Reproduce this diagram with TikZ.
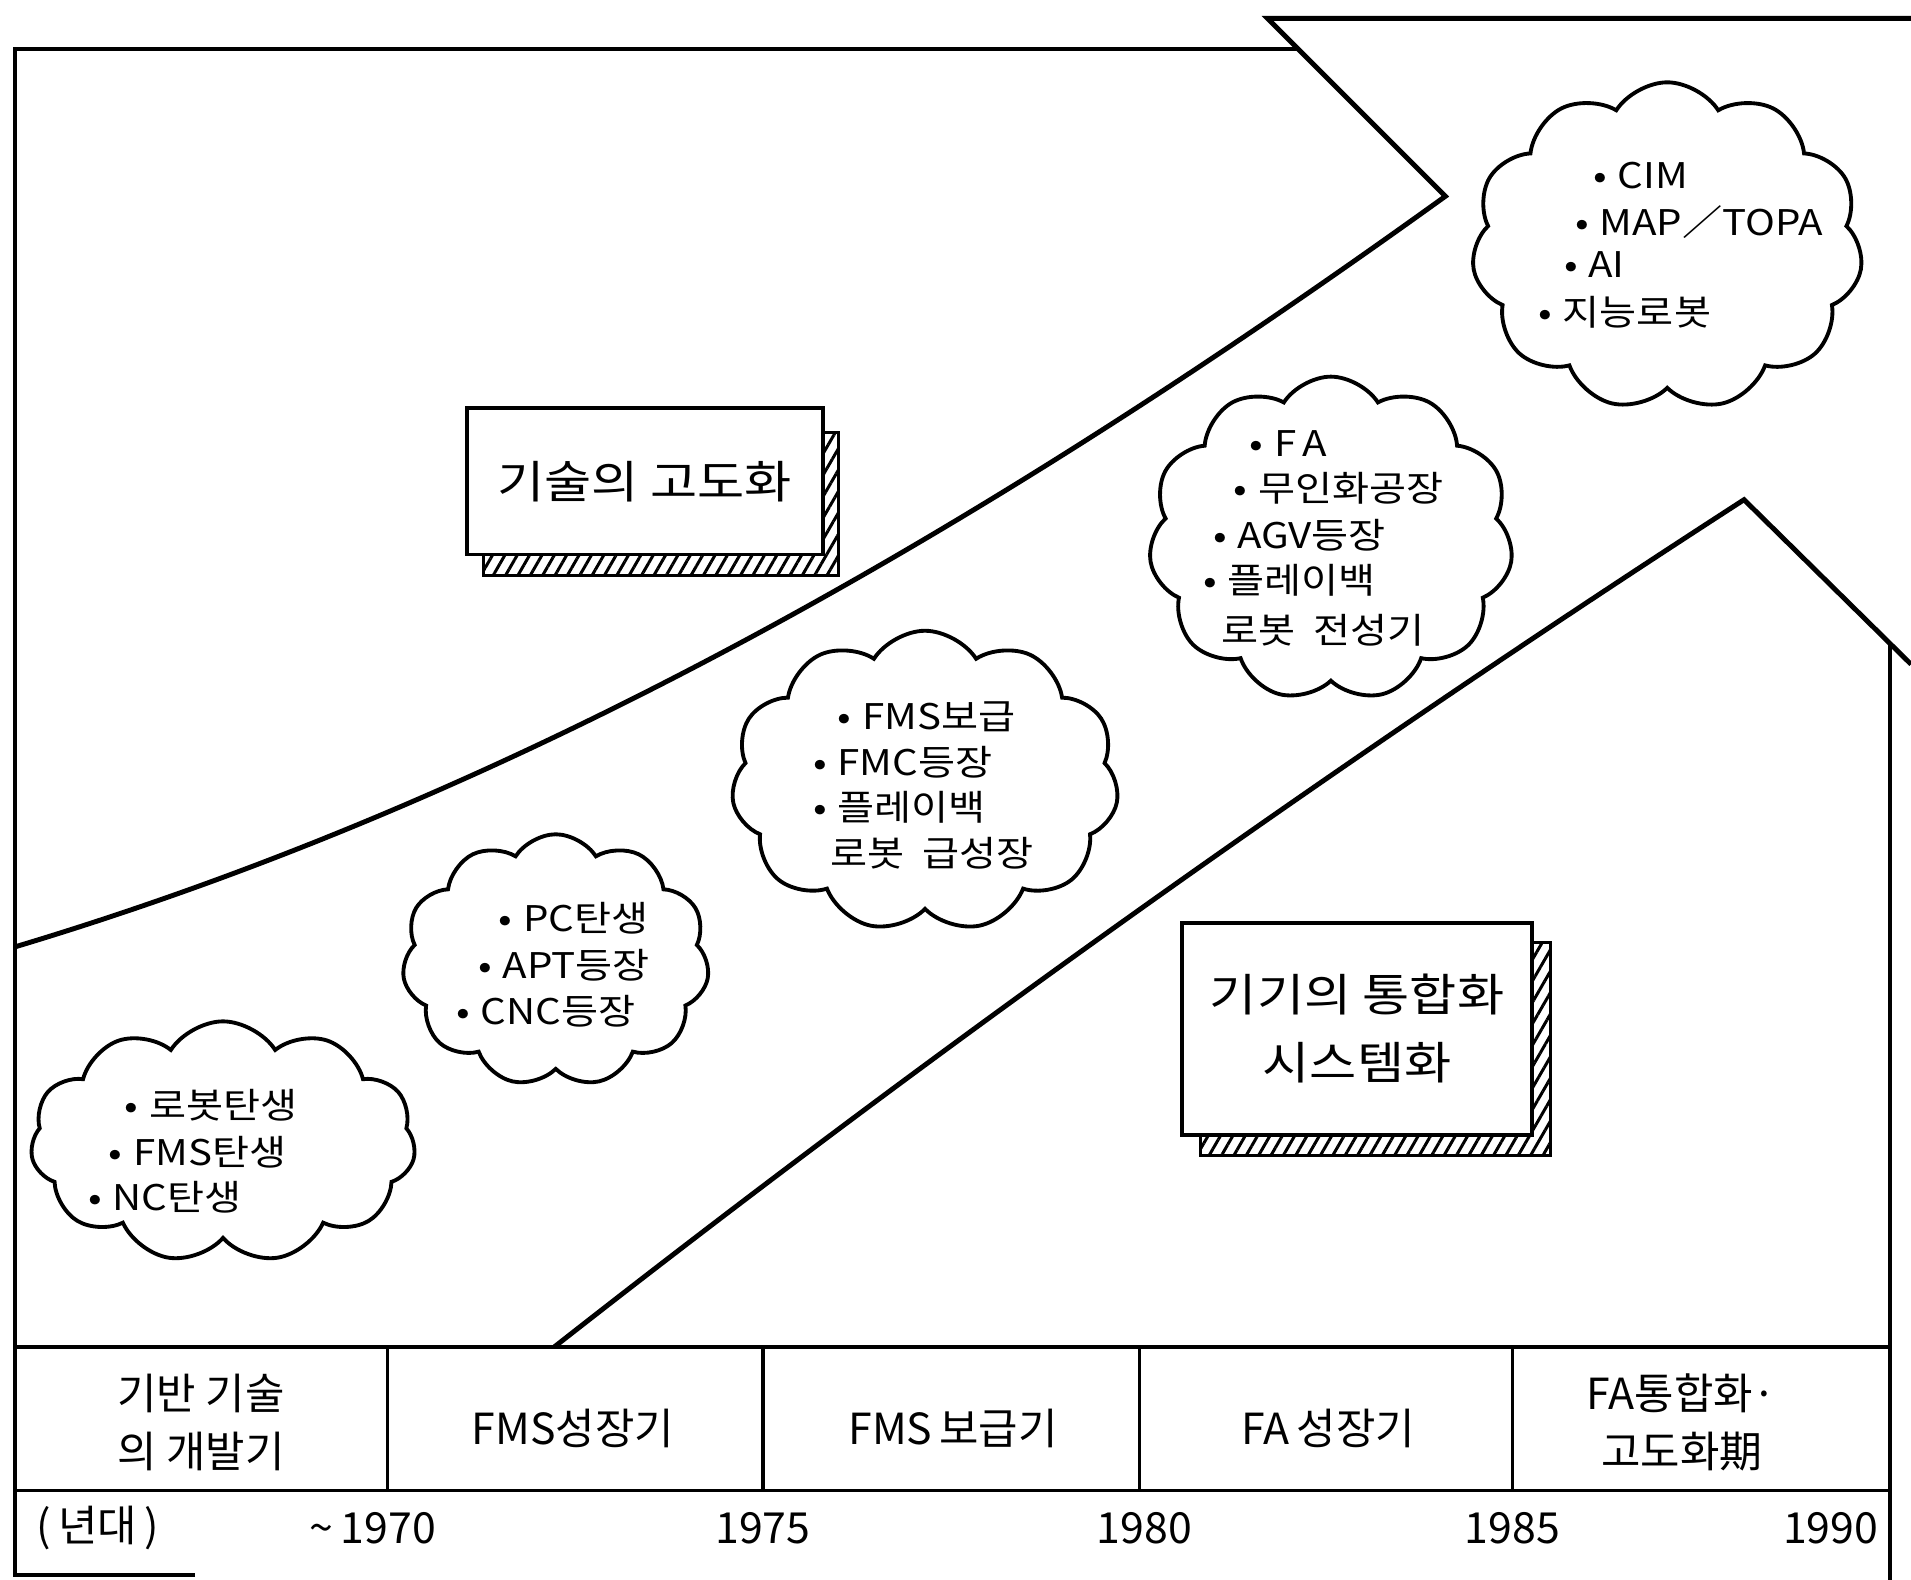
\documentclass[tikz,border=0pt]{standalone}
\usepackage{fontspec}
\setmainfont{Noto Sans CJK KR}
\newfontfamily\widefont[FakeStretch=1.14]{Noto Sans CJK KR}
\usetikzlibrary{shapes.symbols,patterns.meta}
\newcommand\blt{\llap{•\kern5pt}}
\tikzset{
  outline/.style={line width=1.8pt, line join=miter},
  bandline/.style={line width=2.3pt, line join=miter},
  cloudshape/.style={cloud, cloud puffs=11, cloud puff arc=115, cloud ignores aspect, draw, line width=1.8pt, inner sep=0pt},
  ctext/.style={anchor=west, inner sep=0pt, font=\widefont\fontsize{16.5pt}{20pt}\selectfont},
  celltext/.style={align=center, inner sep=0pt, font=\fontsize{20pt}{27pt}\selectfont},
  yeartext/.style={inner sep=0pt, font=\fontsize{20pt}{24pt}\selectfont},
  boxtext/.style={align=center, inner sep=0pt, font=\widefont\fontsize{21pt}{32pt}\selectfont},
  hatchshadow/.style={draw, line width=1.4pt, pattern={Lines[angle=60,distance=5pt,line width=1.4pt]}},
  mainbox/.style={draw, fill=white, line width=1.8pt},
}
\begin{document}
\begin{tikzpicture}[x=0.02cm,y=-0.02cm]
\useasboundingbox (0,0) rectangle (1568,1296);
% frame
\draw[outline] (160,1292) -- (12,1292) -- (12,40) -- (1065,40);
\draw[outline] (1551,529) -- (1551,1296);
% upper band edge (chevron)
\draw[bandline] (1568,15) -- (1040,15) -- (1186,161) .. controls (786,449) and (412,657) .. (12,777);
% lower band edge (chevron)
\draw[bandline] (455,1105) .. controls (780,850) and (1106,620) .. (1431,410) -- (1568,545);
% timeline table
\draw[outline] (12,1105) -- (1551,1105);
\draw[outline] (12,1223) -- (1551,1223);
\foreach \x in {318,626,935,1241} \draw[outline] (\x,1105) -- (\x,1223);
\node[celltext] (p1) at (165,1167) {기반 기술\\의 개발기};
\node[celltext] (p2) at (470,1172) {FMS성장기};
\node[celltext] (p3) at (782,1172) {FMS\,보급기};
\node[celltext] (p4) at (1090,1172) {FA\,성장기};
\node[celltext] (p5) at (1380,1167) {FA통합화·\\고도화期};
% years
\node[yeartext] (y0) at (80,1254) {(\,년대\,)};
\node[yeartext] (y1) at (306,1254) {\textasciitilde\,1970};
\node[yeartext] (y2) at (626,1254) {1975};
\node[yeartext] (y3) at (939,1254) {1980};
\node[yeartext] (y4) at (1241,1254) {1985};
\node[yeartext] (y5) at (1502,1254) {1990};
% box 1
\path[hatchshadow] (675,355) -- (688,355) -- (688,472) -- (397,472) -- (397,455) -- (675,455) -- cycle;
\node[mainbox, boxtext, minimum width=5.84cm, minimum height=2.4cm] (b1) at (529,395) {기술의 고도화};
% box 2
\path[hatchshadow] (1257,773) -- (1272,773) -- (1272,948) -- (985,948) -- (985,931) -- (1257,931) -- cycle;
\node[mainbox, boxtext, minimum width=5.74cm, minimum height=3.48cm] (b2) at (1113.5,844) {기기의 통합화\\시스템화};
% clouds
\node[cloudshape, minimum width=6.32cm, minimum height=3.96cm] (c1) at (183,937) {};
\node[cloudshape, minimum width=5.04cm, minimum height=4.14cm] (c2) at (456,788) {};
\node[cloudshape, minimum width=6.36cm, minimum height=4.94cm] (c3) at (759,641) {};
\node[cloudshape, minimum width=5.98cm, minimum height=5.32cm] (c4) at (1092,442) {};
\node[cloudshape, minimum width=6.42cm, minimum height=5.38cm] (c5) at (1368,202) {};
% cloud 1 text
\node[ctext] (t11) at (122,907) {\blt 로봇탄생};
\node[ctext] (t12) at (109,945) {\blt FMS탄생};
\node[ctext] (t13) at (92,982) {\blt NC탄생};
% cloud 2 text
\node[ctext] (t21) at (429,753) {\blt PC탄생};
\node[ctext] (t22) at (412,792) {\blt APT등장};
\node[ctext] (t23) at (394,830) {\blt CNC등장};
% cloud 3 text
\node[ctext] (t31) at (707,588) {\blt FMS보급};
\node[ctext] (t32) at (687,625) {\blt FMC등장};
\node[ctext] (t33) at (687,662) {\blt 플레이백};
\node[ctext] (t34) at (681,700) {로봇\ \ 급성장};
% cloud 4 text
\node[ctext] (t41) at (1045,364) {\blt F\,A};
\node[ctext] (t42) at (1032,401) {\blt 무인화공장};
\node[ctext] (t43) at (1015,439) {\blt AGV등장};
\node[ctext] (t44) at (1007,476) {\blt 플레이백};
\node[ctext] (t45) at (1002,517) {로봇\ \ 전성기};
% cloud 5 text
\node[ctext] (t51) at (1327,144) {\blt CIM};
\node[ctext] (t52) at (1312,182) {\blt MAP／TOPA};
\node[ctext] (t53) at (1303,217) {\blt AI};
\node[ctext] (t54) at (1282,256) {\blt 지능로봇};
\end{tikzpicture}
\end{document}
